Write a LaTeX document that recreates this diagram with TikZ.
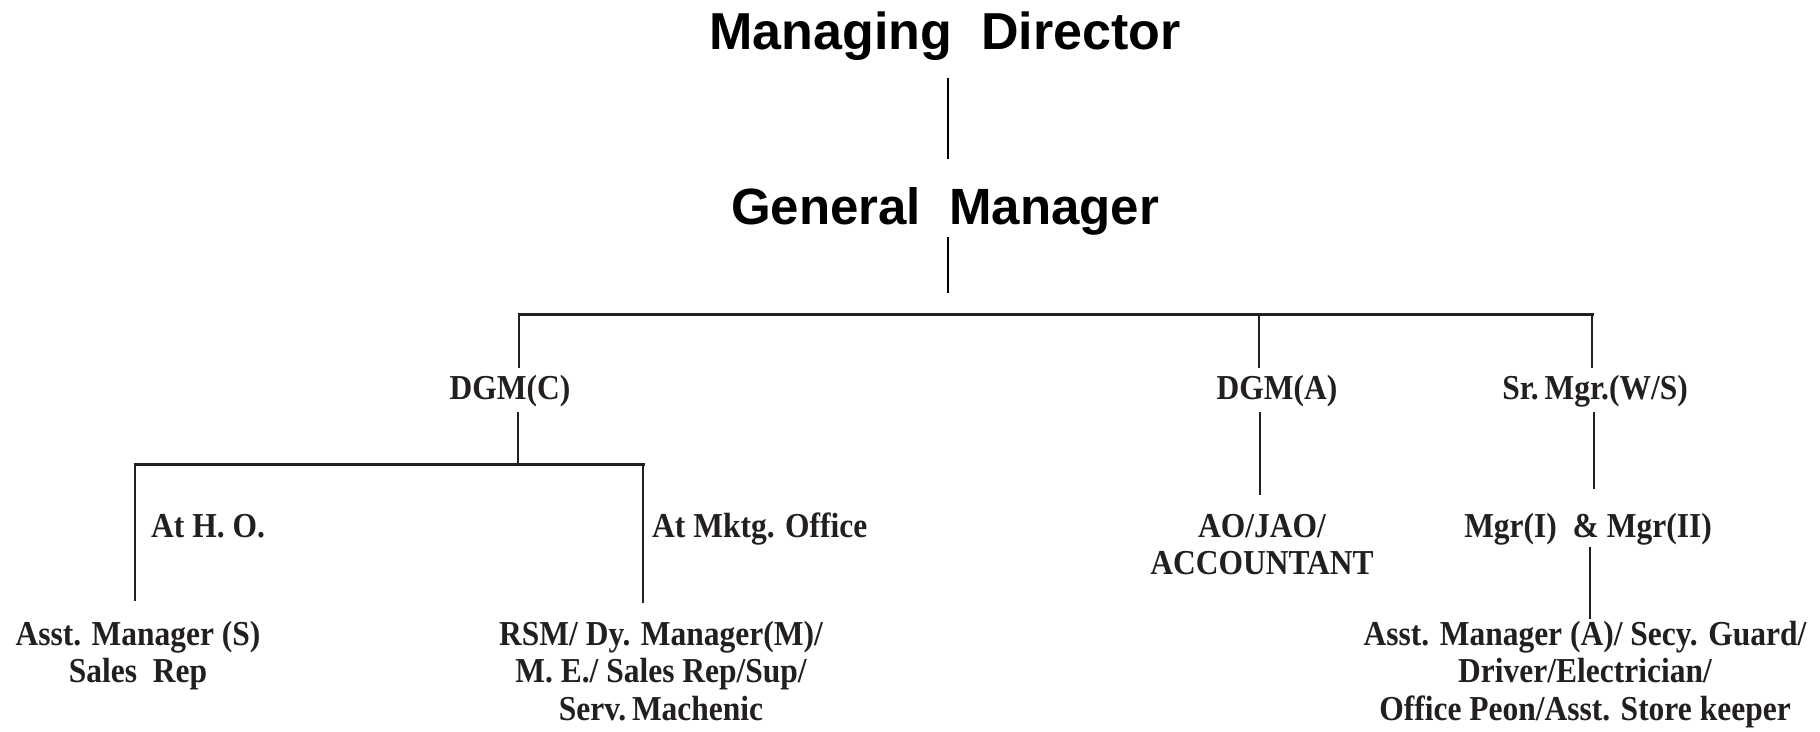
\documentclass[tikz,border=0pt]{standalone}
\usepackage{fontspec}
\newfontfamily\headfont{Liberation Sans}
\newfontfamily\bodyfont{Liberation Serif}[FakeStretch=0.9]
\definecolor{ink}{HTML}{231F20}
\begin{document}
\begin{tikzpicture}[x=1pt,y=-1pt,
  title/.style={font=\headfont\bfseries\fontsize{52}{56}\selectfont, inner sep=0pt, anchor=base, text=black},
  role/.style={font=\bodyfont\bfseries\fontsize{35}{37.5}\selectfont, inner sep=0pt, anchor=base, text=ink},
  rolel/.style={role, anchor=base west},
  toplink/.style={line width=1.6pt, draw=black},
  link/.style={line width=2.2pt, draw=ink},
  barline/.style={line width=3pt, draw=ink, line cap=rect}]
\useasboundingbox (0,0) rectangle (1820,731);
% nodes
\node[title] (md) at (945,49.5) {Managing\ \ Director};
\node[title, font=\headfont\bfseries\fontsize{51}{55}\selectfont] (gm) at (945,224) {General\ \ Manager};
\node[role] (dgmc) at (510,399) {DGM(C)};
\node[role] (dgma) at (1277,399) {DGM(A)};
\node[role] (srm) at (1595,399) {Sr.\,Mgr.(W/S)};
\node[rolel] (ho) at (151,537) {At H. O.};
\node[rolel] (mkt) at (652,537) {At Mktg. Office};
\node[role] (ao) at (1262,537) {\begin{tabular}[t]{@{}c@{}}AO/JAO/\\ACCOUNTANT\end{tabular}};
\node[role] (mgr) at (1588,537) {Mgr(I)\ \ \& Mgr(II)};
\node[role] (ams) at (138,645) {\begin{tabular}[t]{@{}c@{}}Asst. Manager (S)\\Sales\ \ Rep\end{tabular}};
\node[role] (rsm) at (661,645) {\begin{tabular}[t]{@{}c@{}}RSM/ Dy. Manager(M)/\\M. E./ Sales Rep/Sup/\\Serv.\,Machenic\end{tabular}};
\node[role] (ama) at (1585,645) {\begin{tabular}[t]{@{}c@{}}Asst. Manager (A)/ Secy. Guard/\\Driver/Electrician/\\Office Peon/Asst. Store keeper\end{tabular}};
% connector end points
\coordinate (md-s) at (948,78);
\coordinate (gm-n) at (948,159);
\coordinate (gm-s) at (948,237);
\coordinate (gm-e) at (948,293);
\coordinate (bar-l) at (519,314);
\coordinate (bar-a) at (1259,314);
\coordinate (bar-r) at (1592,314);
\coordinate (dgmc-n) at (519,368);
\coordinate (dgma-n) at (1259,368);
\coordinate (srm-n) at (1592,368);
\coordinate (dgmc-s) at (518,412);
\coordinate (sub-m) at (518,464);
\coordinate (sub-l) at (135,464);
\coordinate (sub-r) at (643,464);
\coordinate (ams-n) at (135,601);
\coordinate (rsm-n) at (643,603);
\coordinate (dgma-s) at (1260,412);
\coordinate (ao-n) at (1260,495);
\coordinate (srm-s) at (1594,412);
\coordinate (mgr-n) at (1594,489);
\coordinate (mgr-s) at (1590,547);
\coordinate (ama-n) at (1590,619);
% connectors
\draw[toplink] (md-s) -- (gm-n);
\draw[toplink] (gm-s) -- (gm-e);
\draw[link] (bar-l) -- (dgmc-n);
\draw[link] (bar-a) -- (dgma-n);
\draw[link] (bar-r) -- (srm-n);
\draw[barline] (bar-l) -- (bar-r);
\draw[link] (dgmc-s) -- (sub-m);
\draw[link] (sub-l) -- (ams-n);
\draw[link] (sub-r) -- (rsm-n);
\draw[barline] (sub-l) -- (sub-r);
\draw[link] (dgma-s) -- (ao-n);
\draw[link] (srm-s) -- (mgr-n);
\draw[link] (mgr-s) -- (ama-n);
\end{tikzpicture}
\end{document}
